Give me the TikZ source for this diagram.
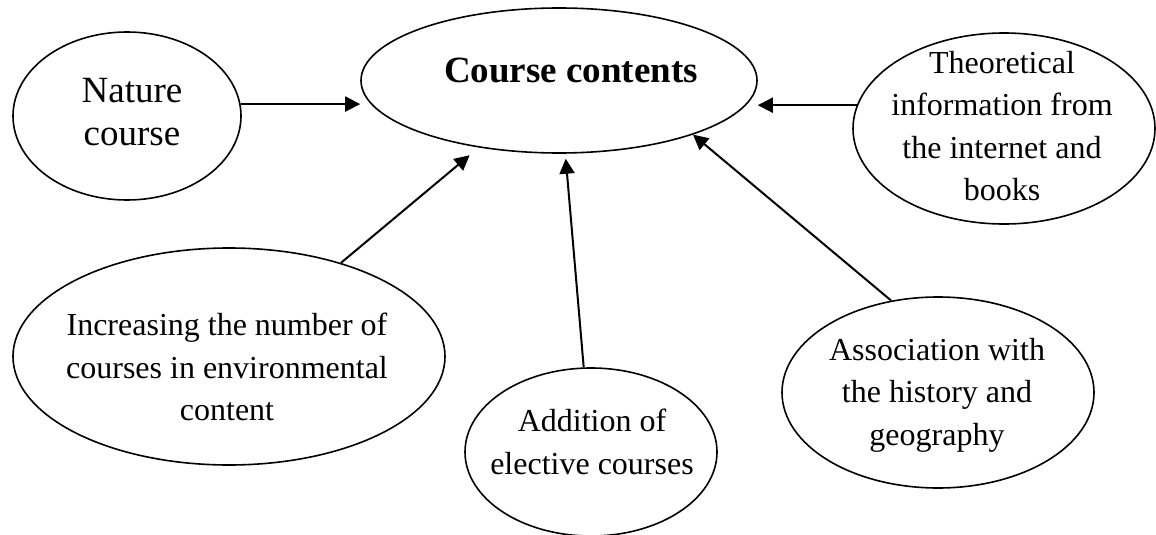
\documentclass[tikz,border=0pt]{standalone}
\usepackage{fontspec}
\setmainfont{Liberation Serif}
\usetikzlibrary{shapes.geometric,arrows.meta,calc}
\begin{document}
\begin{tikzpicture}[x=0.5pt,y=-0.5pt,
  oval/.style={draw,ellipse,line width=0.8pt,inner sep=0pt},
  lbl/.style={align=center,font=\fontsize{16}{21.25}\selectfont,inner sep=0pt},
  biglbl/.style={align=center,font=\fontsize{18.5}{21.25}\selectfont,inner sep=0pt},
  arr/.style={line width=1pt,-{Triangle[length=7.5pt,width=7.5pt]}}]
\useasboundingbox (0,0) rectangle (1156,535);
% ellipses
\node[oval,minimum width=114pt,minimum height=84pt] (nat) at (127,116) {};
\node[oval,minimum width=198pt,minimum height=72.5pt] (cc) at (559,80.5) {};
\node[oval,minimum width=151pt,minimum height=95.5pt] (th) at (1004,128.5) {};
\node[oval,minimum width=216pt,minimum height=108.5pt] (inc) at (229,356.5) {};
\node[oval,minimum width=126pt,minimum height=84pt] (add) at (591,452) {};
\node[oval,minimum width=156pt,minimum height=95.5pt] (as) at (938,392.5) {};
% texts
\node[biglbl] (natT) at (132,112) {Nature\\course};
\node[biglbl,font=\fontsize{18.5}{21.25}\selectfont\bfseries] (ccT) at (571,70) {Course contents};
\node[lbl] (thT) at (1002,126) {Theoretical\\information from\\the internet and\\books};
\node[lbl] (incT) at (227,367) {Increasing the number of\\courses in environmental\\content};
\node[lbl] (addT) at (592,442) {Addition of\\elective courses};
\node[lbl] (asT) at (937,395) {Association with\\the history and\\geography};
% connectors
\draw[arr] (nat.6) -- (cc.west |- nat.6);
\draw[arr] (th.171) -- (cc.east |- th.171);
\draw[arr,shorten >=6pt] (inc) -- (cc);
\draw[arr,shorten >=2.5pt] (add) -- (cc);
\draw[arr] (as.117) -- (cc.-22);
\end{tikzpicture}
\end{document}
